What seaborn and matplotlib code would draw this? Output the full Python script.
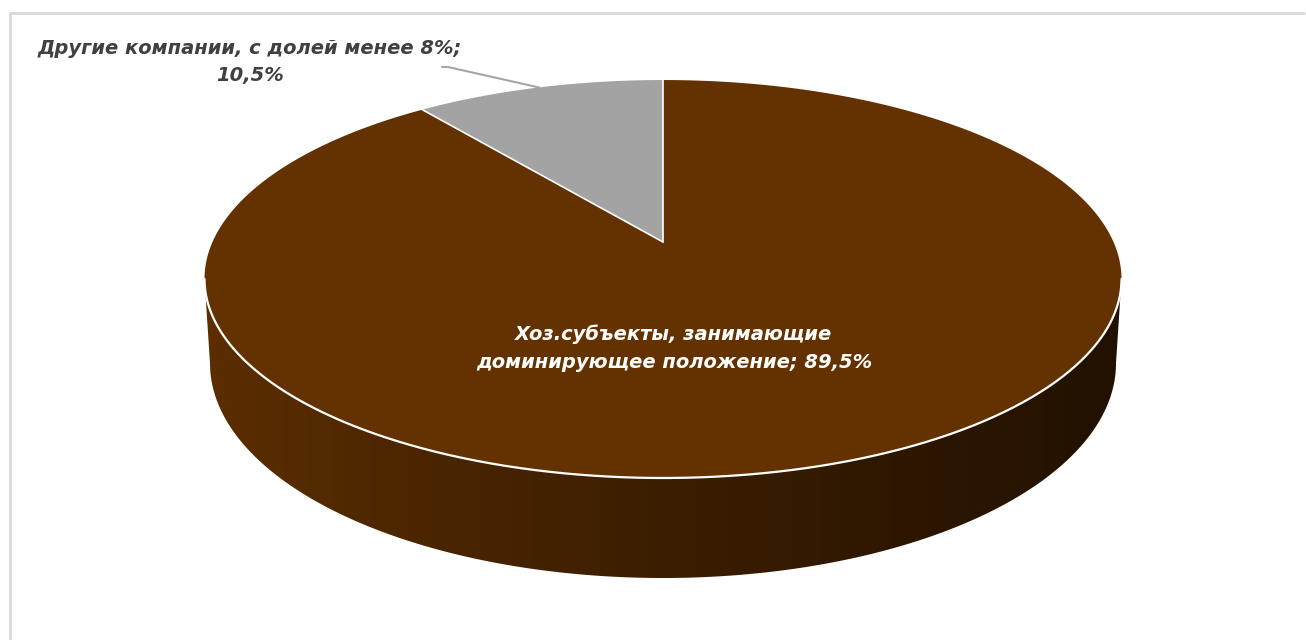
import numpy as np
import matplotlib
matplotlib.use("Agg")
import matplotlib.pyplot as plt
from matplotlib.patches import Polygon
from matplotlib.colors import LinearSegmentedColormap
import seaborn as sns

# данные
categories = ["Хоз.субъекты, занимающие\nдоминирующее положение",
              "Другие компании, с долей менее 8%"]
values = [89.5, 10.5]
colors = ["#633200", "#a3a3a3"]

sns.set_theme(style="white")
plt.rcParams['font.family'] = ['DejaVu Sans']

# параметры "3D" проекции (в пикселях)
cx, cy = 663, 242
S, T = 450.5, 192.1
k = 0.186
D = 81.4


def proj(t, z=0.0):
    u, v = np.cos(t), np.sin(t)
    w = 1 + k * v
    return cx + S * (1 - 0.012 * z) * u / w, cy - T * v / w + z * D / w


def pct(v):
    return f"{v:.1f}%".replace(".", ",")


fig = plt.figure(figsize=(13.06, 6.4), dpi=100)
ax = fig.add_axes([0, 0, 1, 1])
ax.set_xlim(0, 1306)
ax.set_ylim(640, 0)
ax.axis("off")

# рамка
ax.plot([10, 10, 1304], [640, 13, 13], color="#d9d9d9", lw=2, zorder=0)

# боковая стенка
t0 = np.pi + np.arcsin(k)
t_side = np.linspace(t0, 3 * np.pi - t0, 300)
xt, yt = proj(t_side, 0)
xb, yb = proj(t_side, 1)
side = Polygon(np.column_stack([np.r_[xt, xb[::-1]], np.r_[yt, yb[::-1]]]),
               closed=True, facecolor="none", edgecolor="none")
ax.add_patch(side)
cmap = LinearSegmentedColormap.from_list(
    "side", ["#5c2e00", "#4a2500", "#3b1e00", "#2e1700", "#221100"])
grad = np.linspace(0, 1, 512).reshape(1, -1)
im = ax.imshow(grad, cmap=cmap, extent=[xt.min(), xt.max(), yb.max() + 2, 200],
               aspect="auto", zorder=1)
im.set_clip_path(side)
ax.set_xlim(0, 1306)
ax.set_ylim(640, 0)

# верхняя грань: секторы от 12 часов по часовой стрелке
total = sum(values)
cum = np.r_[0, np.cumsum(values)] / total
angles = np.pi / 2 - 2 * np.pi * cum
for i, val in enumerate(values):
    t = np.linspace(angles[i], angles[i + 1], 400)
    px, py = proj(t, 0)
    px = np.r_[cx, px]
    py = np.r_[cy, py]
    ax.add_patch(Polygon(np.column_stack([px, py]), closed=True,
                         facecolor=colors[i], edgecolor="none", zorder=2))

# белые линии
for a in angles[:2]:
    ex, ey = proj(a, 0)
    ax.plot([cx, ex], [cy, ey], color="white", lw=1.2, zorder=3)
ax.plot(xt, yt, color="white", lw=1.6, zorder=3)

# подписи
ax.text(674, 348, f"{categories[0]}; {pct(values[0])}",
        color="white", fontsize=14, fontweight="bold", style="italic",
        ha="center", va="center", linespacing=1.6, zorder=4)

mid = (angles[1] + angles[2]) / 2
lx, ly = proj(mid, 0)
ax.plot([442, 448, lx], [67, 67, ly], color="#a6a6a6", lw=1.5, zorder=4)
ax.text(250, 62, f"{categories[1]};\n{pct(values[1])}",
        color="#404040", fontsize=14, fontweight="bold", style="italic",
        ha="center", va="center", linespacing=1.5, zorder=4)

fig.savefig("out.png", dpi=100, facecolor="white")
